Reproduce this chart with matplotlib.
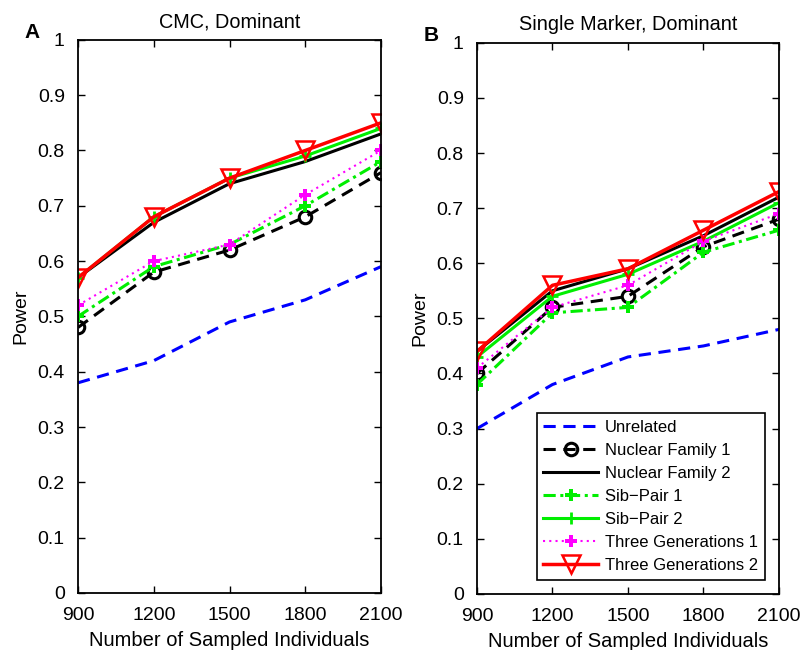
import numpy as np
import matplotlib
matplotlib.use("Agg")
import matplotlib.pyplot as plt

plt.rcParams['font.family'] = ['Liberation Sans', 'DejaVu Sans']

n_sampled = [900, 1200, 1500, 1800, 2100]
series_names = ["Unrelated", "Nuclear Family 1", "Nuclear Family 2",
                "Sib\u2212Pair 1", "Sib\u2212Pair 2",
                "Three Generations 1", "Three Generations 2"]

# panel A: CMC, Dominant
cmc_unrelated = [0.38, 0.42, 0.49, 0.53, 0.59]
cmc_nf1 = [0.48, 0.58, 0.62, 0.68, 0.76]
cmc_nf2 = [0.57, 0.67, 0.74, 0.78, 0.83]
cmc_sp1 = [0.50, 0.59, 0.63, 0.70, 0.78]
cmc_sp2 = [0.57, 0.68, 0.75, 0.79, 0.84]
cmc_tg1 = [0.52, 0.60, 0.63, 0.72, 0.80]
cmc_tg2 = [0.57, 0.68, 0.75, 0.80, 0.85]

# panel B: Single Marker, Dominant
sm_unrelated = [0.30, 0.38, 0.43, 0.45, 0.48]
sm_nf1 = [0.40, 0.52, 0.54, 0.63, 0.68]
sm_nf2 = [0.44, 0.55, 0.59, 0.65, 0.72]
sm_sp1 = [0.38, 0.51, 0.52, 0.62, 0.66]
sm_sp2 = [0.43, 0.54, 0.58, 0.64, 0.71]
sm_tg1 = [0.41, 0.52, 0.56, 0.64, 0.69]
sm_tg2 = [0.44, 0.56, 0.59, 0.66, 0.73]

styles = [
    dict(color='#0000ff', ls=(0, (4, 2.5)), lw=2.2),
    dict(color='black', ls=(0, (4, 2.5)), lw=2.2, marker='o', mfc='none', mew=2.2, ms=9),
    dict(color='black', ls='-', lw=2.2),
    dict(color='#00ee00', ls=(0, (4, 1.5, 1, 1.5)), lw=2.2, marker='P', ms=8, mew=0),
    dict(color='#00ee00', ls='-', lw=2.2, marker='+', ms=8, mew=2),
    dict(color='#ff00ff', ls=(0, (1, 2)), lw=1.5, marker='P', ms=9, mew=0),
    dict(color='#ff0000', ls='-', lw=2.5, marker='v', mfc='none', mew=1.8, ms=13),
]


def draw_panel(ax, data, title, letter, legend=False):
    for vals, name, st in zip(data, series_names, styles):
        ax.plot(n_sampled, vals, label=name, **st)
    ax.set_xlim(900, 2100)
    ax.set_ylim(0, 1)
    ax.set_xticks(n_sampled)
    ax.set_yticks(np.arange(0, 1.01, 0.1))
    ax.set_yticklabels(['0', '0.1', '0.2', '0.3', '0.4', '0.5', '0.6', '0.7', '0.8', '0.9', '1'])
    ax.tick_params(direction='in', top=True, right=True, labelsize=14, length=5, width=1)
    ax.tick_params(axis='x', pad=10)
    ax.tick_params(axis='y', pad=9.5)
    for sp in ax.spines.values():
        sp.set_linewidth(1.3)
    ax.set_title(title, fontsize=14.3, pad=9)
    ax.set_xlabel("Number of Sampled Individuals", fontsize=14.5, labelpad=5)
    ax.set_ylabel("Power", fontsize=14, labelpad=6)
    ax.text(-0.175, 1.004, letter, transform=ax.transAxes, fontsize=15,
            fontweight='bold', ha='left', va='baseline')
    if legend:
        leg = ax.legend(loc='lower right', fontsize=12, handlelength=3.3,
                        handletextpad=0.4, fancybox=False, framealpha=1,
                        edgecolor='black', borderaxespad=0.85,
                        labelspacing=0.48, borderpad=0.4)
        leg.get_frame().set_linewidth(1.2)


fig = plt.figure(figsize=(8.05, 6.5), dpi=100)
ax_a = fig.add_axes([0.0969, 0.0877, 0.3764, 0.851])
ax_b = fig.add_axes([0.5925, 0.0862, 0.3752, 0.848])

draw_panel(ax_a, [cmc_unrelated, cmc_nf1, cmc_nf2, cmc_sp1, cmc_sp2, cmc_tg1, cmc_tg2],
           "CMC, Dominant", "A")
draw_panel(ax_b, [sm_unrelated, sm_nf1, sm_nf2, sm_sp1, sm_sp2, sm_tg1, sm_tg2],
           "Single Marker, Dominant", "B", legend=True)

fig.savefig("out.png", dpi=100)
